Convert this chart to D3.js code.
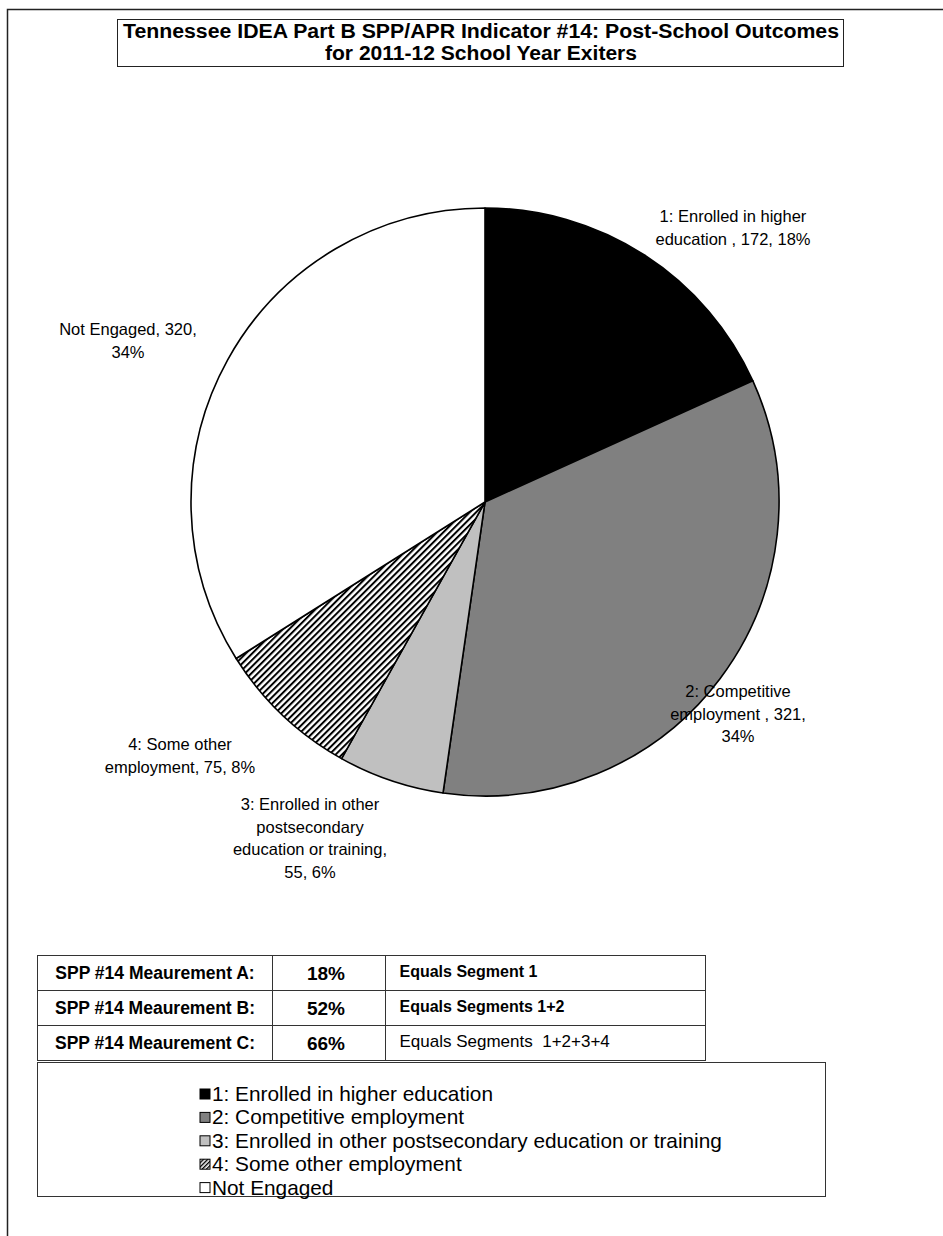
<!DOCTYPE html>
<html><head><meta charset="utf-8">
<script src="https://cdn.jsdelivr.net/npm/d3@7"></script>
<style>body{margin:0;background:#fff}svg{display:block}text{white-space:pre}</style>
</head><body>
<script>
const categories = ["1: Enrolled in higher education","2: Competitive employment","3: Enrolled in other postsecondary education or training","4: Some other employment","Not Engaged"];
const values = [172, 321, 55, 75, 320];
const percents = ["18%","34%","6%","8%","34%"];
const fills = ["#000000","#808080","#c0c0c0","url(#hatch)","#ffffff"];
const sliceLabels = [
  ["1: Enrolled in higher","education , 172, 18%"],
  ["2: Competitive","employment , 321,","34%"],
  ["3: Enrolled in other","postsecondary","education or training,","55, 6%"],
  ["4: Some other","employment, 75, 8%"],
  ["Not Engaged, 320,","34%"]
];
const labelPos = [[733,222],[738,697],[310,810],[180,750],[128,335]];
const tableRows = [
  ["SPP #14 Meaurement A:","18%","Equals Segment 1"],
  ["SPP #14 Meaurement B:","52%","Equals Segments 1+2"],
  ["SPP #14 Meaurement C:","66%","Equals Segments  1+2+3+4"]
];
const title = ["Tennessee IDEA Part B SPP/APR Indicator #14: Post-School Outcomes","for 2011-12 School Year Exiters"];
const titleWidths = [716, 312];

const W=943,H=1236;
const svg=d3.select("body").append("svg").attr("width",W).attr("height",H);
const defs=svg.append("defs");
const pat=defs.append("pattern").attr("id","hatch").attr("patternUnits","userSpaceOnUse")
  .attr("width",4.5).attr("height",4.5).attr("patternTransform","rotate(45)");
pat.append("rect").attr("width",4.5).attr("height",4.5).attr("fill","#fff");
pat.append("rect").attr("x",0).attr("width",2).attr("height",4.5).attr("fill","#000");
const pat2=defs.append("pattern").attr("id","hatchS").attr("patternUnits","userSpaceOnUse")
  .attr("width",3).attr("height",3).attr("patternTransform","rotate(45)");
pat2.append("rect").attr("width",3).attr("height",3).attr("fill","#fff");
pat2.append("rect").attr("width",1.4).attr("height",3).attr("fill","#000");

// outer frame
svg.append("path").attr("d","M7.5,1236 V9.5 H943").attr("fill","none").attr("stroke","#222").attr("stroke-width",1.5);

// title
svg.append("rect").attr("x",117.5).attr("y",19.5).attr("width",726).attr("height",47).attr("fill","#fff").attr("stroke","#222").attr("stroke-width",1);
const tt=svg.append("g").style("font-family","Liberation Sans, Arial").style("font-weight","bold").style("font-size","19.5px");
title.forEach((t,i)=>{
  tt.append("text").attr("text-anchor","middle").attr("x",481).attr("y",38+i*22)
    .attr("textLength",titleWidths[i]).attr("lengthAdjust","spacingAndGlyphs").text(t);
});

// pie
const cx=485,cy=502,R=294;
const pie=d3.pie().sort(null).value(d=>d)(values);
const arc=d3.arc().innerRadius(0).outerRadius(R);
const g=svg.append("g").attr("transform",`translate(${cx},${cy})`);
g.selectAll("path").data(pie).join("path").attr("d",arc)
  .attr("fill",(d,i)=>fills[i]).attr("stroke","#000").attr("stroke-width",1.6).attr("stroke-linejoin","round");

// labels
const lab=svg.append("g").style("font-family","Liberation Sans, Arial").style("font-size","16.5px").attr("fill","#000");
sliceLabels.forEach((lines,i)=>{
  lab.append("text").attr("text-anchor","middle")
    .selectAll("tspan").data(lines).join("tspan")
    .attr("x",labelPos[i][0]).attr("y",(d,j)=>labelPos[i][1]+j*22.5).text(d=>d);
});
// leader line for slice 1
svg.append("path").attr("d","M620,241 H615 L609,253").attr("fill","none").attr("stroke","#000").attr("stroke-width",1);

// table
const colX=[37.5,272.5,385.5,705.5];
const rowY=[955.5,990.5,1025.5,1060.5];
const tg=svg.append("g");
const tf="Liberation Sans, Arial";
tableRows.forEach((r,i)=>{
  for(let c=0;c<3;c++){
    tg.append("rect").attr("x",colX[c]).attr("y",rowY[i]).attr("width",colX[c+1]-colX[c]).attr("height",rowY[i+1]-rowY[i])
      .attr("fill","#fff").attr("stroke","#333").attr("stroke-width",1);
  }
  const ty=rowY[i]+23;
  tg.append("text").attr("x",(colX[0]+colX[1])/2).attr("y",ty).attr("text-anchor","middle")
    .style("font-family",tf).style("font-weight","bold").style("font-size","17.5px").text(r[0]);
  tg.append("text").attr("x",(colX[1]+colX[2])/2-3).attr("y",ty+1).attr("text-anchor","middle")
    .style("font-family",tf).style("font-weight","bold").style("font-size","19px").text(r[1]);
  tg.append("text").attr("x",colX[2]+14).attr("y",ty-2).attr("text-anchor","start")
    .style("font-family",tf).style("font-weight",i==2?"normal":"bold").style("font-size",i==2?"17px":"16px").text(r[2]);
});

// legend
svg.append("rect").attr("x",37.5).attr("y",1062.5).attr("width",788).attr("height",134).attr("fill","#fff").attr("stroke","#333").attr("stroke-width",1);
const lg=svg.append("g").style("font-family","Liberation Sans, Arial").style("font-size","20.8px");
const legFills=["#000","#808080","#c0c0c0","url(#hatchS)","#fff"];
categories.forEach((c,i)=>{
  const y=1101+i*23.4;
  lg.append("rect").attr("x",200).attr("y",y-12).attr("width",10).attr("height",10).attr("fill",legFills[i]).attr("stroke","#000").attr("stroke-width",1);
  lg.append("text").attr("x",212).attr("y",y).text(c);
});
</script>
</body></html>
